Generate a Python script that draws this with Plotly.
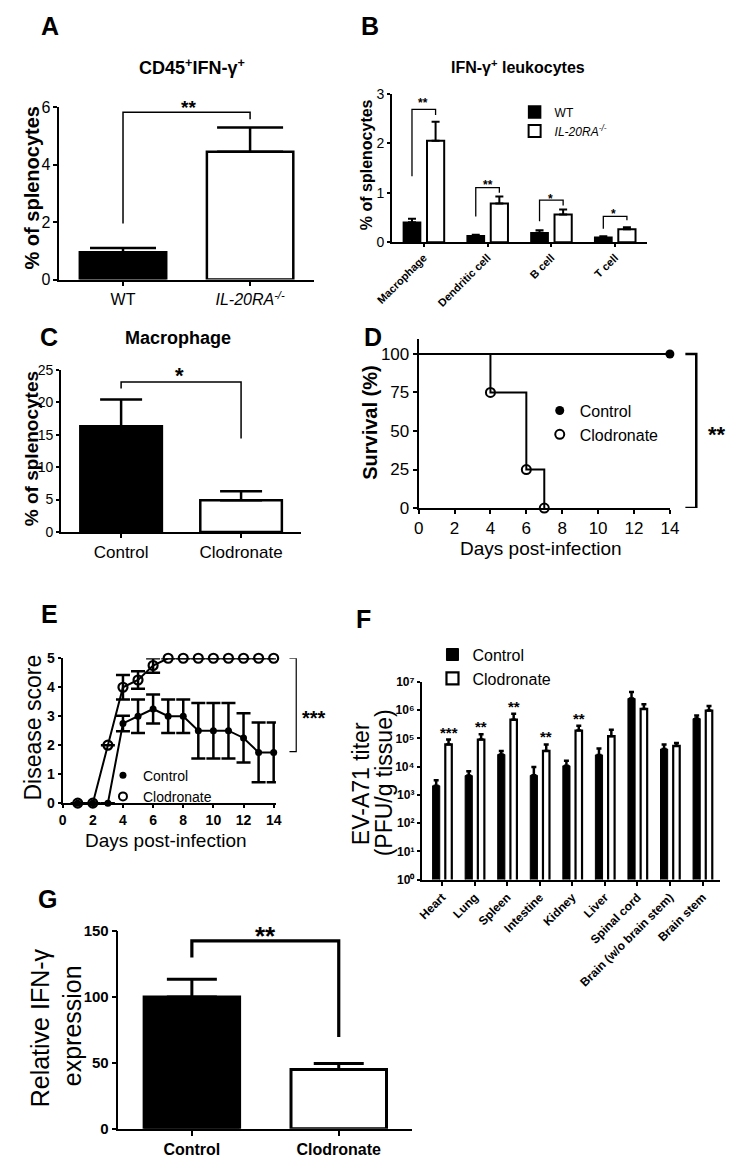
import math
import plotly.graph_objects as go

W, H = 742, 1168
FONT = "Liberation Sans, Arial, sans-serif"
SUP = "<span style='font-size:70%;baseline-shift:super'>{}</span>"

# ---------------- data ----------------
# A
a_groups = ["WT", "IL-20RA-/-"]
a_labels = ["WT", "<i>IL-20RA" + SUP.format("-/-") + "</i>"]
a_mean = [0.95, 4.45]
a_sem = [0.15, 0.85]

# B
b_cells = ["Macrophage", "Dendritic cell", "B cell", "T cell"]
b_wt = [0.40, 0.13, 0.19, 0.10]
b_wt_err = [0.07, 0.02, 0.05, 0.02]
b_ko = [2.05, 0.78, 0.56, 0.26]
b_ko_err = [0.38, 0.14, 0.10, 0.04]

# C
c_groups = ["Control", "Clodronate"]
c_mean = [16.3, 4.9]
c_sem = [4.1, 1.4]

# D (Kaplan-Meier)
d_ctrl_days = [0, 14]
d_ctrl_surv = [100, 100]
d_ctrl_mark_days = [14]
d_ctrl_mark_surv = [100]
d_clod_days = [0, 4, 4, 6, 6, 7, 7]
d_clod_surv = [100, 100, 75, 75, 25, 25, 0]
d_clod_mark_days = [4, 6, 7]
d_clod_mark_surv = [75, 25, 0]

# E
e_days = [1, 2, 3, 4, 5, 6, 7, 8, 9, 10, 11, 12, 13, 14]
e_ctrl = [0, 0, 0, 2.75, 3.0, 3.25, 3.0, 3.0, 2.5, 2.5, 2.5, 2.25, 1.75, 1.75]
e_ctrl_err = [0, 0, 0, 0.27, 0.58, 0.5, 0.58, 0.58, 0.96, 0.96, 0.96, 0.85, 1.03, 1.03]
e_clod = [0, 0, 2.0, 4.0, 4.25, 4.75, 5, 5, 5, 5, 5, 5, 5, 5]
e_clod_err = [0, 0, 0, 0.42, 0.3, 0.25, 0, 0, 0, 0, 0, 0, 0, 0]

# F
f_tissues = ["Heart", "Lung", "Spleen", "Intestine", "Kidney", "Liver",
             "Spinal cord", "Brain (w/o brain stem)", "Brain stem"]
f_ctrl = [2.1e3, 4.8e3, 2.7e4, 4.9e3, 1.07e4, 2.6e4, 2.6e6, 4.2e4, 5.0e5]
f_ctrl_err = [1.2e3, 2.0e3, 0.9e4, 4.7e3, 0.53e4, 1.8e4, 1.8e6, 1.9e4, 1.4e5]
f_clod = [6.1e4, 9.1e4, 4.6e5, 3.6e4, 1.9e5, 1.2e5, 1.1e6, 5.4e4, 9.6e5]
f_clod_err = [3.0e4, 4.9e4, 2.8e5, 2.5e4, 0.9e5, 0.8e5, 0.5e6, 1.5e4, 4.4e5]
f_stars = ["***", "**", "**", "**", "**", "", "", "", ""]
f_tickvals = [1, 10, 100, 1e3, 1e4, 1e5, 1e6, 1e7]
f_ticktext = ["10⁰", "10¹", "10²", "10³", "10⁴", "10⁵", "10⁶", "10⁷"]

# G
g_groups = ["Control", "Clodronate"]
g_mean = [100, 45]
g_sem = [13.5, 4.5]


# ---------------- helpers ----------------
def dx(a, b):
    return [a / W, b / W]


def dy(top, bottom):
    return [1 - bottom / H, 1 - top / H]


def px(x):
    return x / W


def py(y):
    return 1 - y / H


def axis(domain, anchor, lw=2, tf=15, bold=False, tl=5, **kw):
    d = dict(domain=domain, anchor=anchor, showline=True, linecolor="black",
             linewidth=lw, ticks="outside", ticklen=tl, tickwidth=lw,
             tickcolor="black", showgrid=False, zeroline=False,
             tickfont=dict(family=FONT, size=tf, color="black",
                           weight="bold" if bold else "normal"))
    d.update(kw)
    return d


annotations = []


def ann(x, y, text, size, bold=False, angle=0, xanchor="center", yanchor="middle"):
    annotations.append(dict(
        x=px(x), y=py(y), xref="paper", yref="paper", text=text, showarrow=False,
        textangle=angle, xanchor=xanchor, yanchor=yanchor,
        font=dict(family=FONT, size=size, color="black",
                  weight="bold" if bold else "normal")))


shapes = []


def bracket(xref, yref, pts, lw=1.5):
    path = "M " + " L ".join(f"{x},{y}" for x, y in pts)
    shapes.append(dict(type="path", path=path, xref=xref, yref=yref,
                       line=dict(color="black", width=lw)))


fig = go.Figure()


def err(arr, w, t=2, sym=False):
    d = dict(type="data", array=arr, color="black", thickness=t, width=w, visible=True)
    if not sym:
        d["symmetric"] = False
        d["arrayminus"] = [0] * len(arr)
    return d


# ---------------- A ----------------
fig.add_trace(go.Bar(x=a_groups, y=a_mean, width=0.68,
                     marker=dict(color=["black", "white"], line=dict(color="black", width=2.5)),
                     error_y=err(a_sem, 33, 2.5), xaxis="x", yaxis="y", showlegend=False))
bracket("x", "y", [(0, 1.95), (0, 5.83), (1, 5.83), (1, 5.59)])

# ---------------- B ----------------
fig.add_trace(go.Bar(x=b_cells, y=b_wt, width=0.27, offset=-0.32, name="WT",
                     marker=dict(color="black", line=dict(color="black", width=1.5)),
                     error_y=err(b_wt_err, 4, 2), xaxis="x2", yaxis="y2", legend="legend"))
fig.add_trace(go.Bar(x=b_cells, y=b_ko, width=0.27, offset=0.05,
                     name="<i>IL-20RA" + SUP.format("-/-") + "</i>",
                     marker=dict(color="white", line=dict(color="black", width=2)),
                     error_y=err(b_ko_err, 4, 2), xaxis="x2", yaxis="y2", legend="legend"))
for i, (top, lb, rb) in enumerate([(2.68, 1.33, 2.57), (1.10, 0.52, 1.0),
                                   (0.85, 0.42, 0.74), (0.52, 0.27, 0.44)]):
    bracket("x2", "y2", [(i - 0.185, lb), (i - 0.185, top), (i + 0.185, top), (i + 0.185, rb)], 1.3)

# ---------------- C ----------------
fig.add_trace(go.Bar(x=c_groups, y=c_mean, width=0.68,
                     marker=dict(color=["black", "white"], line=dict(color="black", width=2.5)),
                     error_y=err(c_sem, 21, 2.5), xaxis="x3", yaxis="y3", showlegend=False))
bracket("x3", "y3", [(0, 22.1), (0, 23.1), (1, 23.1), (1, 14.4)])

# ---------------- D ----------------
fig.add_trace(go.Scatter(x=d_ctrl_days, y=d_ctrl_surv, mode="lines",
                         line=dict(color="black", width=2), xaxis="x4", yaxis="y4",
                         showlegend=False, cliponaxis=False))
fig.add_trace(go.Scatter(x=d_ctrl_mark_days, y=d_ctrl_mark_surv, mode="markers",
                         marker=dict(symbol="circle", size=9, color="black"),
                         xaxis="x4", yaxis="y4", showlegend=False, cliponaxis=False))
fig.add_trace(go.Scatter(x=d_clod_days, y=d_clod_surv, mode="lines",
                         line=dict(color="black", width=2), xaxis="x4", yaxis="y4",
                         showlegend=False, cliponaxis=False))
fig.add_trace(go.Scatter(x=d_clod_mark_days, y=d_clod_mark_surv, mode="markers",
                         marker=dict(symbol="circle-open", size=9, color="black", line=dict(width=2)),
                         xaxis="x4", yaxis="y4", showlegend=False, cliponaxis=False))
fig.add_trace(go.Scatter(x=[None], y=[None], mode="markers", name="Control",
                         marker=dict(symbol="circle", size=9, color="black"),
                         xaxis="x4", yaxis="y4", legend="legend2"))
fig.add_trace(go.Scatter(x=[None], y=[None], mode="markers", name="Clodronate",
                         marker=dict(symbol="circle-open", size=9, color="black", line=dict(width=2)),
                         xaxis="x4", yaxis="y4", legend="legend2"))
shapes.append(dict(type="path", xref="paper", yref="y4",
                   path=f"M {px(692.7)},100 L {px(704)},100 L {px(704)},0 L {px(692.7)},0",
                   line=dict(color="black", width=2.5)))

# ---------------- E ----------------
fig.add_trace(go.Scatter(x=e_days, y=e_ctrl, mode="lines+markers",
                         line=dict(color="black", width=2),
                         marker=dict(symbol="circle", size=7, color="black"),
                         error_y=err(e_ctrl_err, 7, 2.5, sym=True),
                         xaxis="x5", yaxis="y5", showlegend=False, cliponaxis=False))
fig.add_trace(go.Scatter(x=e_days, y=e_clod, mode="lines+markers",
                         line=dict(color="black", width=2),
                         marker=dict(symbol="circle-open", size=9, color="black", line=dict(width=2.2)),
                         error_y=err(e_clod_err, 7, 2.5, sym=True),
                         xaxis="x5", yaxis="y5", showlegend=False, cliponaxis=False))
fig.add_trace(go.Scatter(x=[None], y=[None], mode="markers", name="Control",
                         marker=dict(symbol="circle", size=7, color="black"),
                         xaxis="x5", yaxis="y5", legend="legend3"))
fig.add_trace(go.Scatter(x=[None], y=[None], mode="markers", name="Clodronate",
                         marker=dict(symbol="circle-open", size=8, color="black", line=dict(width=2)),
                         xaxis="x5", yaxis="y5", legend="legend3"))
shapes.append(dict(type="path", xref="paper", yref="y5",
                   path=f"M {px(283)},5 L {px(290)},5 L {px(290)},1.78 L {px(283)},1.78",
                   line=dict(color="black", width=1.2)))

# ---------------- F ----------------
fig.add_trace(go.Bar(x=f_tissues, y=f_ctrl, width=0.22, offset=-0.29, name="Control",
                     marker=dict(color="black", line=dict(color="black", width=1)),
                     error_y=err(f_ctrl_err, 2.5, 2.5), xaxis="x6", yaxis="y6", legend="legend4"))
fig.add_trace(go.Bar(x=f_tissues, y=f_clod, width=0.20, offset=0.10, name="Clodronate",
                     marker=dict(color="white", line=dict(color="black", width=2.2)),
                     error_y=err(f_clod_err, 2.5, 2.5), xaxis="x6", yaxis="y6", legend="legend4"))
f_star_ann = []
for i, s in enumerate(f_stars):
    if s:
        f_star_ann.append(dict(x=i + 0.2, y=math.log10(f_clod[i] + f_clod_err[i]),
                               xref="x6", yref="y6", text=s, showarrow=False,
                               yanchor="bottom", yshift=-3,
                               font=dict(family=FONT, size=15, color="black", weight="bold")))

# ---------------- G ----------------
fig.add_trace(go.Bar(x=g_groups, y=g_mean, width=0.65,
                     marker=dict(color=["black", "white"], line=dict(color="black", width=3)),
                     error_y=err(g_sem, 25, 3), xaxis="x7", yaxis="y7", showlegend=False))
bracket("x7", "y7", [(0, 130), (0, 142.5), (1, 142.5), (1, 69.6)], 3.2)

# ---------------- axes ----------------
layout_axes = dict(
    xaxis=axis(dx(45, 308), "y", tf=16, tl=4, range=[-0.5, 1.5], tickvals=a_groups, ticktext=a_labels),
    yaxis=axis(dy(100, 275), "x", tf=16, tl=4, range=[0, 6], tickvals=[0, 2, 4, 6]),
    xaxis2=axis(dx(389, 653), "y2", lw=1.8, tf=11, bold=True, tl=3, range=[-0.5, 3.5], tickangle=-45),
    yaxis2=axis(dy(86, 237), "x2", lw=1.8, tf=14, tl=3, range=[0, 3], tickvals=[0, 1, 2, 3]),
    xaxis3=axis(dx(46.7, 295), "y3", tf=17, tl=4, range=[-0.5, 1.5]),
    yaxis3=axis(dy(366.7, 531.7), "x3", tf=14, tl=3, range=[0, 25], tickvals=[0, 5, 10, 15, 20, 25]),
    xaxis4=axis(dx(416.7, 676.7), "y4", tf=17, tl=4, range=[0, 14], tickvals=list(range(0, 15, 2))),
    yaxis4=axis(dy(335, 507.3), "x4", tf=17, tl=4, range=[0, 110], tickvals=[0, 25, 50, 75, 100]),
    xaxis5=axis(dx(48.3, 269), "y5", tf=14, bold=True, tl=3, range=[0, 14.15], tickvals=list(range(0, 15, 2))),
    yaxis5=axis(dy(660, 807.3), "x5", tf=14, bold=True, tl=3, range=[0, 5], tickvals=[0, 1, 2, 3, 4, 5]),
    xaxis6=axis(dx(420, 728.3), "y6", tf=12, bold=True, tl=4, range=[-0.62, 8.53], tickangle=-45),
    yaxis6=axis(dy(684, 885), "x6", tf=12, bold=True, type="log", range=[0, 7],
                tickvals=f_tickvals, ticktext=f_ticktext, tl=3),
    xaxis7=axis(dx(106, 410), "y7", lw=1.5, tf=16, bold=True, range=[-0.5, 1.5]),
    yaxis7=axis(dy(937.3, 1138.3), "x7", lw=1.5, tf=15, bold=True, range=[0, 150],
                tickvals=[0, 50, 100, 150]),
)

# ---------------- text ----------------
for letter, x, y in [("A", 35, 17), ("B", 366, 17), ("C", 34, 333), ("D", 369, 333),
                     ("E", 35, 615), ("F", 360, 620), ("G", 33, 905)]:
    ann(x, y, letter, 25, bold=True)

ann(182, 59, "CD45" + SUP.format("+") + "IFN-γ" + SUP.format("+"), 18, bold=True)
ann(520, 58, "IFN-γ" + SUP.format("+") + " leukocytes", 16, bold=True)
ann(168, 334, "Macrophage", 18, bold=True)

ann(17, 182, "% of splenocytes", 20, bold=True, angle=-90)
ann(363, 158, "% of splenocytes", 16, bold=True, angle=-90)
ann(16, 447, "% of splenocytes", 19, bold=True, angle=-90)
ann(366, 421, "Survival (%)", 20, bold=True, angle=-90)
ann(543, 548, "Days post-infection", 19)
ann(18, 730, "Disease score", 23, angle=-90)
ann(155, 845, "Days post-infection", 19)
ann(357, 787, "EV-A71 titer", 23, angle=-90)
ann(381, 787, "(PFU/g tissue)", 23, angle=-90)
ann(25, 1036, "Relative IFN-γ", 25, angle=-90)
ann(58, 1034, "expression", 25, angle=-90)

# stars (visual centers)
ann(178, 100, "**", 19, bold=True)
ann(421.7, 96, "**", 12, bold=True)
ann(488.3, 179, "**", 12, bold=True)
ann(553.3, 193, "*", 12, bold=True)
ann(618.3, 208, "*", 12, bold=True)
ann(169, 373, "*", 22, bold=True)
ann(725, 433, "**", 22, bold=True)
ann(308, 721, "***", 20, bold=True)
ann(258, 942, "**", 26, bold=True)

annotations.extend(f_star_ann)

leg_common = dict(xanchor="left", yanchor="top", bgcolor="rgba(0,0,0,0)",
                  itemwidth=30, tracegroupgap=0, borderwidth=0)

fig.update_layout(
    width=W, height=H, margin=dict(l=0, r=0, t=0, b=0),
    paper_bgcolor="white", plot_bgcolor="white",
    barmode="overlay",
    font=dict(family=FONT, color="black"),
    annotations=annotations, shapes=shapes,
    legend=dict(x=px(516), y=py(90), font=dict(family=FONT, size=12, color="black"), **leg_common),
    legend2=dict(x=px(542), y=py(391), font=dict(family=FONT, size=16, color="black"), **leg_common),
    legend3=dict(x=px(90), y=py(763), font=dict(family=FONT, size=14, color="black"), **leg_common),
    legend4=dict(x=px(431), y=py(639), font=dict(family=FONT, size=16, color="black"), **leg_common),
    **layout_axes,
)

fig.write_html("out.html")
